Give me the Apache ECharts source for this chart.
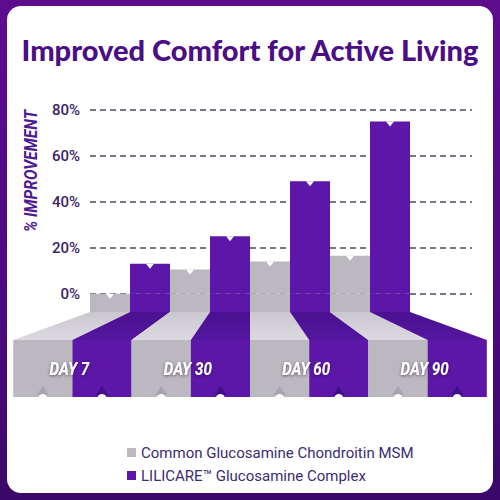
<!DOCTYPE html>
<html>
<head>
<meta charset="utf-8">
<script src="https://cdn.jsdelivr.net/npm/echarts@6/dist/echarts.min.js"></script>
<style>
  html, body { margin: 0; padding: 0; }
  body { width: 500px; height: 500px; position: relative; overflow: hidden;
         background: linear-gradient(180deg, #5d0c8e 0%, #4c0a80 60%, #3a0868 100%); }
  #panel { position: absolute; left: 7px; top: 6px; width: 486px; height: 487px;
           background: #ffffff; border-radius: 14px; }
  #chart { position: absolute; left: 0; top: 0; width: 500px; height: 500px; }
</style>
</head>
<body>
<div id="panel"></div>
<div id="chart"></div>
<script>
// ---- data ----
var categories = ['DAY 7', 'DAY 30', 'DAY 60', 'DAY 90'];
var commonValues = [0, 10.5, 14, 16.5];
var lilicareValues = [13, 25, 49, 75];
var yTicks = [0, 20, 40, 60, 80];
var seriesNames = ['Common Glucosamine Chondroitin MSM', 'LILICARE\u2122 Glucosamine Complex'];
var titleText = 'Improved Comfort for Active Living';
var axisTitle = '% IMPROVEMENT';

// ---- style constants ----
var Y_MIN = -8;          // bars sink below the 0% line into the "floor"
var K = 1.48;            // perspective spread of the floor
var DEPTH = 28;          // floor top depth (px)
var FRONT_H = 57;        // floor front face height (px)
var GRAY = '#bbb9bf';
var PURPLE = '#5c17a8';
var COND = '"Roboto", sans-serif';

var chart = echarts.init(document.getElementById('chart'), null, { renderer: 'svg' });

function floorItem(params, api) {
  var i = api.value(0);
  var cs = params.coordSys;
  var vc = cs.x + cs.width / 2;
  var bw = api.size([1, 0])[0];
  var c = api.coord([i, Y_MIN]);
  var xL = c[0] - bw / 2, xM = c[0], xR = c[0] + bw / 2;
  var y0 = c[1], y1 = y0 + DEPTH, y2 = y1 + FRONT_H;
  var P = function (x) { return vc + (x - vc) * K; };
  var grayTop = new echarts.graphic.LinearGradient(0, 0, 0, 1, [
    { offset: 0, color: '#cac7ce' }, { offset: 1, color: '#dcd9e0' }]);
  var purpTop = new echarts.graphic.LinearGradient(0, 0, 0, 1, [
    { offset: 0, color: '#4a1190' }, { offset: 1, color: '#54169f' }]);
  var gx = (P(xL) + P(xM)) / 2, px = (P(xM) + P(xR)) / 2;
  return {
    type: 'group',
    children: [
      { type: 'polygon', shape: { points: [[xL, y0], [xM, y0], [P(xM), y1], [P(xL), y1]] },
        style: { fill: grayTop } },
      { type: 'polygon', shape: { points: [[xM, y0], [xR, y0], [P(xR), y1], [P(xM), y1]] },
        style: { fill: purpTop } },
      { type: 'rect', shape: { x: P(xL), y: y1, width: P(xM) - P(xL), height: FRONT_H },
        style: { fill: GRAY } },
      { type: 'rect', shape: { x: P(xM), y: y1, width: P(xR) - P(xM), height: FRONT_H },
        style: { fill: PURPLE } },
      { type: 'polygon', shape: { points: [[gx - 6, y2 - 2], [gx + 6, y2 - 2], [gx, y2 - 11]] },
        style: { fill: '#a7a4ae' } },
      { type: 'polygon', shape: { points: [[px - 6, y2 - 2], [px + 6, y2 - 2], [px, y2 - 11]] },
        style: { fill: '#420f86' } },
      { type: 'circle', shape: { cx: gx, cy: y2 + 1.5, r: 4.5 }, style: { fill: '#ffffff' } },
      { type: 'circle', shape: { cx: px, cy: y2 + 1.5, r: 4.5 }, style: { fill: '#ffffff' } },
      { type: 'text', x: P(xM) - 3, y: (y1 + y2) / 2, scaleX: 0.8,
        style: { text: categories[i], fill: '#ffffff', align: 'center', verticalAlign: 'middle',
                 font: 'italic bold 19px ' + COND,
                 textShadowColor: 'rgba(40,20,60,0.6)', textShadowBlur: 3, textShadowOffsetY: 1,
                 shadowColor: 'rgba(40,20,60,0.6)', shadowBlur: 3, shadowOffsetY: 1 } }
    ]
  };
}

var notch = function (vals) {
  return {
    symbol: 'triangle', symbolRotate: 180, symbolSize: [8, 5], symbolOffset: [0, 2.5],
    itemStyle: { color: '#ffffff' }, label: { show: false }, silent: true,
    data: vals.map(function (v, i) { return { coord: [i, v] }; })
  };
};

chart.setOption({
  animation: false,
  backgroundColor: 'transparent',
  title: {
    text: titleText, left: 'center', top: 30,
    textStyle: { fontFamily: 'Lato', fontWeight: 900, fontSize: 29, color: '#4b0e84' }
  },
  legend: {
    data: seriesNames, orient: 'vertical', left: 122, top: 440, itemGap: 8,
    icon: 'rect', itemWidth: 9, itemHeight: 9,
    textStyle: { fontFamily: 'Roboto', fontSize: 15, color: '#3d2c6e' }
  },
  graphic: [{
    type: 'text', x: 30, y: 171, rotation: Math.PI / 2, scaleX: 0.82,
    style: { text: axisTitle, align: 'center', verticalAlign: 'middle',
             font: 'italic bold 19px ' + COND, fill: '#4f1a94' }
  }],
  grid: [
    { left: 90, right: 90, top: 110, bottom: 188 },
    { left: 90, right: 28, top: 110, bottom: 206 }
  ],
  xAxis: [
    { type: 'category', data: categories, gridIndex: 0, show: false },
    { type: 'value', gridIndex: 1, min: 0, max: 1, show: false }
  ],
  yAxis: [
    { type: 'value', gridIndex: 0, min: Y_MIN, max: 80, show: false },
    { type: 'value', gridIndex: 1, min: yTicks[0], max: yTicks[yTicks.length - 1], interval: 20,
      axisLine: { show: false }, axisTick: { show: false },
      axisLabel: { formatter: '{value}%', margin: 10, fontFamily: 'Roboto', fontSize: 15,
                   fontWeight: 500, color: '#3b2366' },
      splitLine: { show: true, lineStyle: { color: '#4d4b5e', width: 1.5, type: [6, 4] } } }
  ],
  series: [
    { name: seriesNames[0], type: 'bar', stack: 'g', data: commonValues,
      xAxisIndex: 0, yAxisIndex: 0, barGap: '0%', barCategoryGap: '0%',
      itemStyle: { color: GRAY }, markPoint: notch(commonValues) },
    { name: 'gray-floor', type: 'bar', stack: 'g', data: categories.map(function () { return Y_MIN; }),
      xAxisIndex: 0, yAxisIndex: 0, itemStyle: { color: GRAY }, silent: true },
    { name: seriesNames[1], type: 'bar', stack: 'p', data: lilicareValues,
      xAxisIndex: 0, yAxisIndex: 0, barGap: '0%', barCategoryGap: '0%',
      itemStyle: { color: PURPLE }, markPoint: notch(lilicareValues) },
    { name: 'purple-floor', type: 'bar', stack: 'p', data: categories.map(function () { return Y_MIN; }),
      xAxisIndex: 0, yAxisIndex: 0, itemStyle: { color: PURPLE }, silent: true },
    { name: 'floor', type: 'custom', xAxisIndex: 0, yAxisIndex: 0, silent: true,
      data: categories.map(function (c, i) { return [i]; }), renderItem: floorItem }
  ]
});
</script>
</body>
</html>
